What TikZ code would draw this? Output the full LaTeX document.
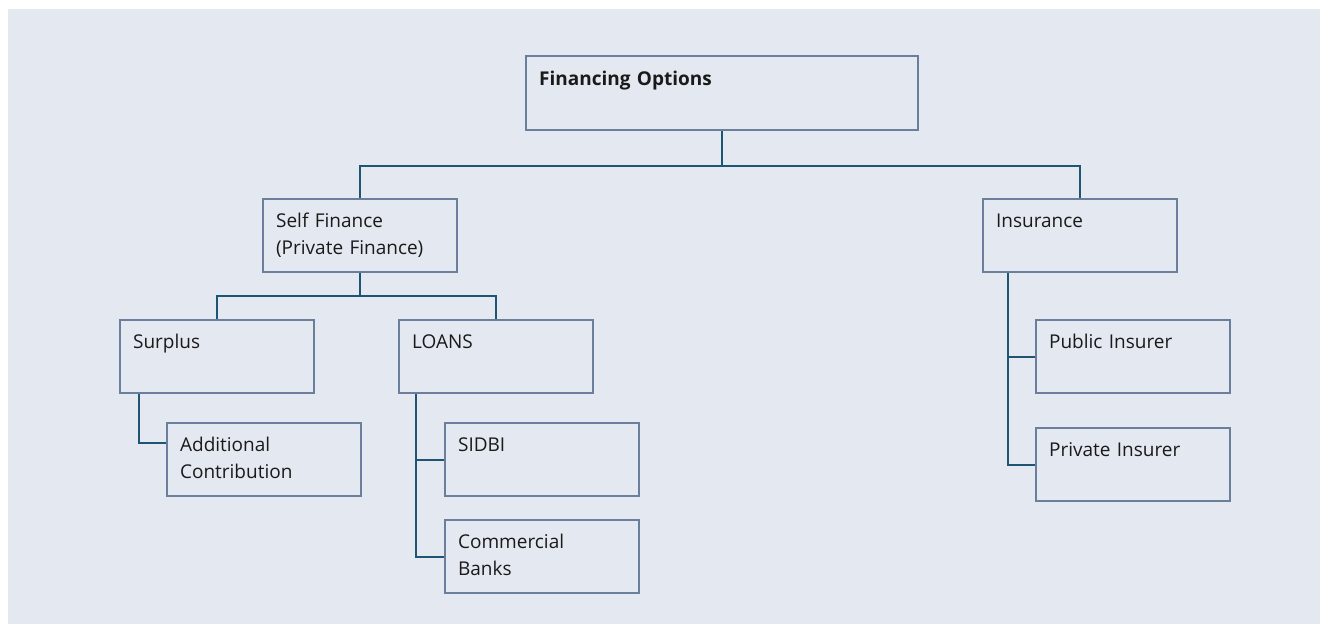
\documentclass[tikz,border=0pt]{standalone}
\usepackage{fontspec}
\setmainfont{Open Sans}
\usetikzlibrary{calc}
\definecolor{grauBlau}{RGB}{228,232,240}
\definecolor{blauRand}{RGB}{107,127,156}
\definecolor{petrol}{RGB}{31,84,115}
\definecolor{schrift}{RGB}{26,26,26}
\tikzstyle{option} = [draw=blauRand,line width=2.2pt,rectangle,anchor=north west,minimum width=194pt,minimum height=73pt,text width=168pt,inner xsep=13pt,inner ysep=0pt,align=left,text=schrift,font=\fontsize{19}{27}\selectfont]
\tikzstyle{option'} = [option,minimum width=392pt,minimum height=74pt,text width=366pt,font=\fontsize{19}{27}\selectfont\bfseries]
\tikzstyle{link} = [draw=petrol,line width=2.2pt]

\begin{document}
\begin{tikzpicture}[x=1pt,y=-1pt]
\useasboundingbox (0,0) rectangle (1320,624);
\fill[grauBlau] (8,9) rectangle (1320,624);

\node[option'] (F) at (525,55) {\strut Financing Options\\\strut};

\node[option] (SF) at (262,198) {\strut Self Finance\\\strut (Private Finance)};
\node[option] (I) at (982,198) {\strut Insurance\\\strut};

\node[option] (S) at (119,319) {\strut Surplus\\\strut};
\node[option] (L) at (398,319) {\strut LOANS\\\strut};
\node[option] (AC) at (166,422) {\strut Additional\\\strut Contribution};
\node[option] (SB) at (444,422) {\strut SIDBI\\\strut};
\node[option] (CB) at (444,519) {\strut Commercial\\\strut Banks};

\node[option] (PU) at (1035,319) {\strut Public Insurer\\\strut};
\node[option] (PR) at (1035,427) {\strut Private Insurer\\\strut};

\draw[link] (F.south) -- ++(0,35) -| (SF.north);
\draw[link] (F.south) -- ++(0,35) -| (I.north);
\draw[link] (SF.south) -- ++(0,23) -| (S.north);
\draw[link] (SF.south) -- ++(0,23) -| (L.north);
\draw[link] ($(S.south west)+(20,0)$) |- ($(AC.north west)+(0,21)$);
\draw[link] ($(L.south west)+(18,0)$) |- (SB.west);
\draw[link] ($(L.south west)+(18,0)$) |- (CB.west);
\draw[link] ($(I.south west)+(26,0)$) |- (PU.west);
\draw[link] ($(I.south west)+(26,0)$) |- (PR.west);
\end{tikzpicture}
\end{document}
